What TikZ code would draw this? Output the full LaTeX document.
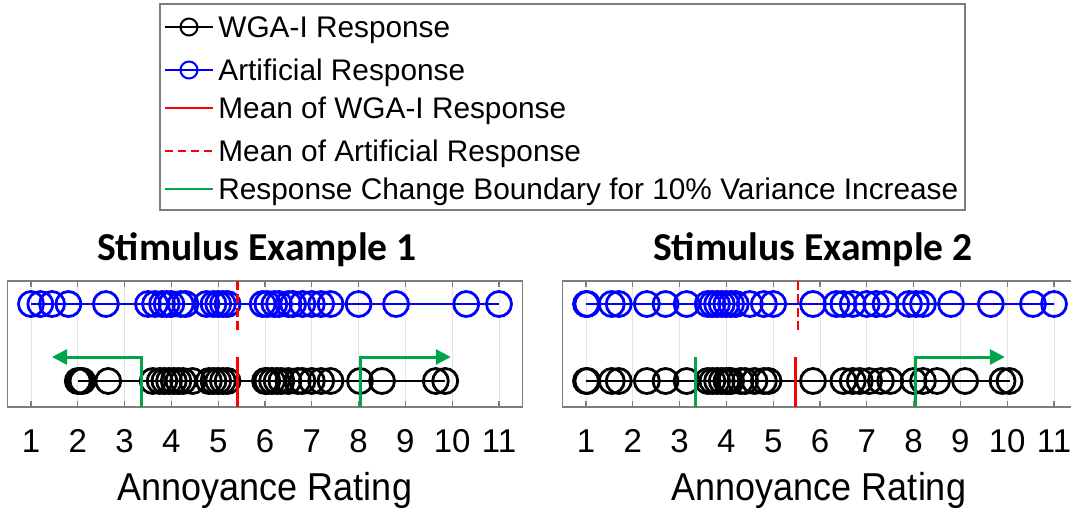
\documentclass[tikz,border=0pt]{standalone}
\usepackage{fontspec}
\setmainfont{Liberation Sans}
\newfontfamily\titlefont{Carlito}
\usetikzlibrary{arrows.meta}

\definecolor{boxgray}{RGB}{125,125,125}
\definecolor{gridgray}{RGB}{228,228,228}
\definecolor{bndgreen}{RGB}{0,165,75}

\begin{document}
\begin{tikzpicture}[x=0.5pt, y=-0.5pt, every node/.style={inner sep=0pt},
    ring/.style={circle, draw, minimum size=12.5pt, line width=1.4pt},
    keyring/.style={circle, draw, minimum size=8.5pt, line width=1pt},
    frame/.style={draw=boxgray, line width=0.8pt},
    rowline/.style={line width=1pt},
    meanline/.style={red, line width=1.4pt},
    meandash/.style={red, line width=1.4pt, dash pattern=on 4.5pt off 2.2pt},
    bound/.style={bndgreen, line width=1.5pt},
    boundarrow/.style={bndgreen, line width=1.5pt, -{Triangle[length=7.5pt,width=7.5pt]}},
    keytext/.style={anchor=base west, font=\fontsize{14.9pt}{17pt}\selectfont},
    ticklab/.style={anchor=base, font=\fontsize{16.5pt}{18pt}\selectfont},
    axlab/.style={anchor=base, font=\fontsize{18pt}{20pt}\selectfont},
    paneltitle/.style={anchor=base, font=\titlefont\bfseries\fontsize{19.8pt}{22pt}\selectfont}]
\useasboundingbox (0,0) rectangle (1071,510);

% legend
\draw[boxgray, line width=0.6pt] (160,4) rectangle (965,210);
\draw[rowline] (165,27) -- (213,27);
\node[keyring] (k1) at (189,27) {};
\node[keytext] (t1) at (218,37.7) {WGA-I Response};
\draw[rowline, blue] (165,70) -- (213,70);
\node[keyring, blue] (k2) at (189,70) {};
\node[keytext] (t2) at (218,80.7) {Artificial Response};
\draw[rowline, red] (165,108) -- (213,108);
\node[keytext] (t3) at (218,118.7) {Mean of WGA-I Response};
\draw[rowline, red, dash pattern=on 4pt off 2.5pt] (165,151) -- (213,151);
\node[keytext] (t4) at (218,161.7) {Mean of Artificial Response};
\draw[rowline, bndgreen] (165,189) -- (213,189);
\node[keytext] (t5) at (218,199.7) {Response Change Boundary for 10\% Variance Increase};

% titles and axis labels
\node[paneltitle] (titleA) at (257,260) {Stimulus Example 1};
\node[paneltitle] (titleB) at (813,260) {Stimulus Example 2};
\node[axlab] (xlabA) at (265,500) {\scalebox{1}[1.08]{Annoyance Rating}};
\node[axlab] (xlabB) at (819,500) {\scalebox{1}[1.08]{Annoyance Rating}};

% panel 1
\begin{scope}[shift={(-15.8,0)}, x=23.4pt]
    \foreach \k in {1,...,11} {
        \draw[gridgray, line width=0.5pt] (\k,281) -- (\k,407);
    }
    \draw[frame] (0.5,281) rectangle (11.5,407);
    \foreach \k in {1,...,11} {
        \draw[boxgray, line width=0.6pt] (\k,407) -- (\k,401) (\k,281) -- (\k,287);
        \node[ticklab] (ta\k) at (\k,452) {\k};
    }
    \foreach \v [count=\i] in {1.0,1.2,1.45,1.8,2.6,3.5,3.65,3.8,3.9,4.0,4.2,4.3,4.75,4.9,5.0,5.1,5.2,
        5.95,6.05,6.2,6.3,6.5,6.6,6.8,7.0,7.2,7.4,8.0,8.8,10.3,11.0} {
        \node[ring, blue] (aa\i) at (\v,304) {};
    }
    \draw[rowline, blue] (aa1.center) -- (aa31.center);
    \foreach \v [count=\i] in {2.0,2.05,2.1,2.65,3.6,3.75,3.85,3.95,4.05,4.15,4.25,4.45,4.8,4.9,5.0,5.1,5.2,
        6.0,6.05,6.15,6.25,6.35,6.5,6.7,6.8,7.0,7.2,7.4,8.03,8.5,9.65,9.85} {
        \node[ring] (wa\i) at (\v,381) {};
    }
    \draw[rowline] (wa1.center) -- (wa32.center);
    % means and boundaries
    \draw[meandash] (5.42,281) -- (5.42,333);
    \draw[meanline] (5.42,357) -- (5.42,407);
    \coordinate (ga0) at (3.37,407);
    \coordinate (ga1) at (3.37,357);
    \coordinate (ga2) at (1.45,357);
    \coordinate (gb0) at (8.03,407);
    \coordinate (gb1) at (8.03,357);
    \coordinate (gb2) at (9.97,357);
    \draw[boundarrow] (ga0) -- (ga1) -- (ga2);
    \draw[boundarrow] (gb0) -- (gb1) -- (gb2);
\end{scope}

% panel 2
\begin{scope}[shift={(539.2,0)}, x=23.4pt]
    \foreach \k in {1,...,11} {
        \draw[gridgray, line width=0.5pt] (\k,281) -- (\k,407);
    }
    \draw[frame] (0.5,281) rectangle (11.5,407);
    \foreach \k in {1,...,11} {
        \draw[boxgray, line width=0.6pt] (\k,407) -- (\k,401) (\k,281) -- (\k,287);
        \node[ticklab] (tb\k) at (\k,452) {\k};
    }
    \foreach \v [count=\i] in {1.0,1.03,1.55,1.7,2.3,2.7,3.15,3.6,3.7,3.8,3.9,4.0,4.1,4.2,4.5,4.8,5.0,
        5.85,6.35,6.5,6.7,7.0,7.2,7.4,7.9,8.05,8.2,8.8,9.65,10.55,11.0} {
        \node[ring, blue] (ab\i) at (\v,304) {};
    }
    \draw[rowline, blue] (ab1.center) -- (ab31.center);
    \foreach \v [count=\i] in {1.0,1.03,1.55,1.7,2.3,2.7,3.15,3.6,3.7,3.8,3.9,4.0,4.05,4.1,4.3,4.4,4.6,4.8,4.9,
        5.85,6.5,6.7,6.85,7.05,7.3,7.5,8.0,8.2,8.5,9.1,9.9,10.05} {
        \node[ring] (wb\i) at (\v,381) {};
    }
    \draw[rowline] (wb1.center) -- (wb32.center);
    % means and boundaries
    \draw[meandash] (5.53,281) -- (5.53,333);
    \draw[meanline] (5.47,357) -- (5.47,407);
    \coordinate (gc0) at (3.35,407);
    \coordinate (gc1) at (3.35,357);
    \coordinate (gd0) at (8.03,407);
    \coordinate (gd1) at (8.03,357);
    \coordinate (gd2) at (9.95,357);
    \draw[bound] (gc0) -- (gc1);
    \draw[boundarrow] (gd0) -- (gd1) -- (gd2);
\end{scope}
\end{tikzpicture}
\end{document}
